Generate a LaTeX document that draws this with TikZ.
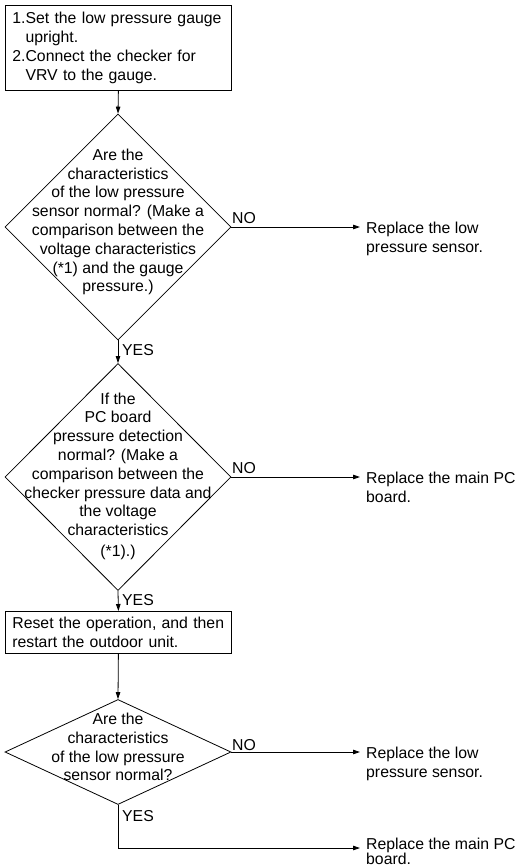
\documentclass[tikz,border=0pt]{standalone}
\usepackage{fontspec}
\setmainfont{Liberation Sans}
\usetikzlibrary{arrows.meta,shapes.geometric}
\begin{document}
\begin{tikzpicture}[x=1pt,y=-1pt,
  every node/.style={font=\fontsize{15.8}{18.8}\selectfont},
  box/.style={draw, line width=0.8pt, text width=212pt, inner xsep=7pt, inner ysep=0pt, align=left, anchor=north west},
  dia/.style={draw, diamond, line width=0.8pt, inner sep=0pt, minimum width=226pt},
  dtext/.style={align=center, inner sep=0pt},
  rtext/.style={align=left, inner sep=0pt, anchor=north west},
  lbl/.style={inner sep=0pt, anchor=west},
  arr/.style={-{Triangle[length=7pt,width=4.5pt]}, line width=0.8pt},
]
\useasboundingbox (0,0) rectangle (518,868);

% process boxes
\node[box, minimum height=85pt] (b1) at (5,5)
  {1.Set the low pressure gauge\\\phantom{1.}upright.\\2.Connect the checker for\\\phantom{2.}VRV to the gauge.};
\node[box, minimum height=42pt] (b2) at (5,611)
  {Reset the operation, and then\\restart the outdoor unit.};

% decisions
\node[dia, minimum height=226pt] (d1) at (118,227) {};
\node[dtext] (t1) at (118,222) {Are the\\characteristics\\of the low pressure\\sensor normal? (Make a\\comparison between the\\voltage characteristics\\(*1) and the gauge\\pressure.)};

\node[dia, minimum height=227pt] (d2) at (118,477) {};
\node[dtext] (t2) at (118,476) {If the\\PC board\\pressure detection\\normal? (Make a\\comparison between the\\checker pressure data and\\the voltage\\characteristics\\[1.5pt](*1).)};

\node[dia, minimum height=105pt] (d3) at (118,752) {};
\node[dtext] (t3) at (118,747) {Are the\\characteristics\\of the low pressure\\sensor normal?};

% result texts
\node[rtext] (r1) at (366,222) {Replace the low\\pressure sensor.};
\node[rtext] (r2) at (366,472) {Replace the main PC\\board.};
\node[rtext] (r3) at (366,747) {Replace the low\\pressure sensor.};
\node[rtext] (r4) at (366,838) {Replace the main PC\\[-4pt]board.};

\coordinate (e1) at (360,227);
\coordinate (e2) at (360,477);
\coordinate (e3) at (360,752);
\coordinate (e4) at (360,848);

% labels
\node[lbl] (n1) at (232,218) {NO};
\node[lbl] (n2) at (232,468) {NO};
\node[lbl] (n3) at (232,745) {NO};
\node[lbl] (y1) at (122,350) {YES};
\node[lbl] (y2) at (122,600) {YES};
\node[lbl] (y3) at (122,816) {YES};

% connectors
\draw[arr] (b1.south) -- (d1.north);
\draw[arr] (d1.south) -- (d2.north);
\draw[arr] (d2.south) -- (b2.north);
\draw[arr] (b2.south) -- (d3.north);
\draw[arr] (d1.east) -- (e1);
\draw[arr] (d2.east) -- (e2);
\draw[arr] (d3.east) -- (e3);
\draw[arr] (d3.south) |- (e4);
\end{tikzpicture}
\end{document}
